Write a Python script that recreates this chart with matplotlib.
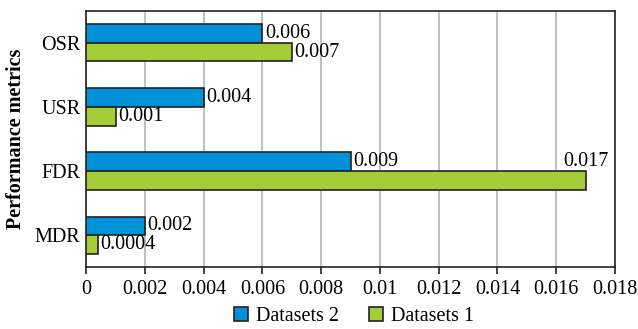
import matplotlib
matplotlib.use("Agg")
import matplotlib.pyplot as plt
import numpy as np

categories = ["MDR", "FDR", "USR", "OSR"]
datasets2 = [0.002, 0.009, 0.004, 0.006]
datasets1 = [0.0004, 0.017, 0.001, 0.007]
labels2 = ["0.002", "0.009", "0.004", "0.006"]
labels1 = ["0.0004", "0.017", "0.001", "0.007"]
xticks = [0, 0.002, 0.004, 0.006, 0.008, 0.01, 0.012, 0.014, 0.016, 0.018]
xticklabels = ["0", "0.002", "0.004", "0.006", "0.008", "0.01", "0.012", "0.014", "0.016", "0.018"]

plt.rcParams['font.family'] = ['Liberation Serif', 'DejaVu Serif']
fs = 14.5

fig = plt.figure(figsize=(6.38, 3.29), dpi=100)
ax = fig.add_axes([0.135, 0.188, 0.829, 0.779])

y = np.arange(len(categories))
h = 0.29
blue = "#0091D8"
green = "#A5CD39"
b2 = ax.barh(y + h/2, datasets2, height=h, color=blue, edgecolor="#222222", linewidth=1.2, label="Datasets 2", zorder=3)
b1 = ax.barh(y - h/2, datasets1, height=h, color=green, edgecolor="#222222", linewidth=1.2, label="Datasets 1", zorder=3)

for i in range(len(categories)):
    ax.text(datasets2[i] + 0.00008, y[i] + h/2, labels2[i], va="center", ha="left", fontsize=fs, zorder=4)
    if datasets1[i] > 0.012:
        ax.text(datasets1[i], y[i] + h/2, labels1[i], va="center", ha="center", fontsize=fs, zorder=4)
    else:
        ax.text(datasets1[i] + 0.00008, y[i] - h/2, labels1[i], va="center", ha="left", fontsize=fs, zorder=4)

ax.set_xlim(0, 0.018)
ax.set_ylim(-0.5, 3.5)
ax.set_xticks(xticks)
ax.set_xticklabels(xticklabels, fontsize=fs)
ax.set_yticks(y)
ax.set_yticklabels(categories, fontsize=fs)
ax.tick_params(axis="y", length=0, pad=4)
ax.tick_params(axis="x", direction="out", length=5, width=1.2, color="#222222", pad=4)
ax.grid(axis="x", color="#b0b0b0", linewidth=1.1, zorder=0)
for s in ax.spines.values():
    s.set_linewidth(1.2)
    s.set_color("#222222")
ax.set_ylabel("Performance metrics", fontsize=fs, fontweight="bold", labelpad=6)

handles = [b2, b1]
leg = fig.legend(handles, ["Datasets 2", "Datasets 1"], loc="lower center", bbox_to_anchor=(0.555, -0.045),
                 ncol=2, frameon=False, fontsize=fs, handlelength=0.7, handleheight=0.7,
                 handletextpad=0.4, columnspacing=1.5)

fig.savefig("out.png", dpi=100)
